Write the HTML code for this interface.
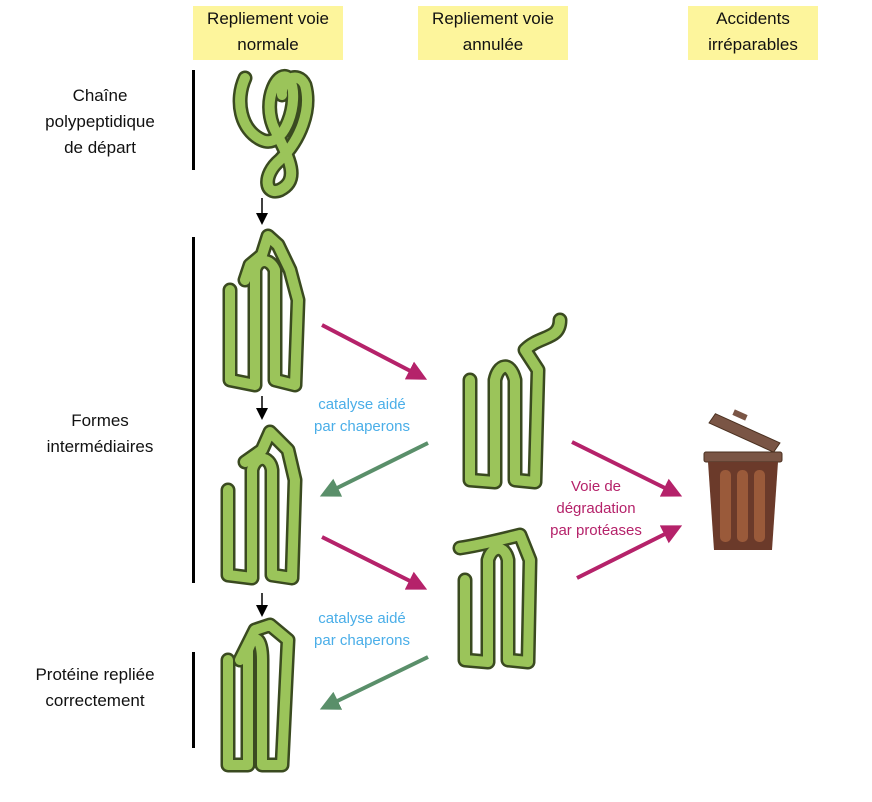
<!DOCTYPE html>
<html><head><meta charset="utf-8"><style>
body{margin:0;background:#fff;width:872px;height:802px;overflow:hidden;font-family:"Liberation Sans",sans-serif}
.t{position:absolute;text-align:center;font-size:17px;line-height:26px;color:#111}
.h{position:absolute;background:#fdf59c;text-align:center;font-size:17px;line-height:26px;color:#111}
</style></head><body>
<div class="h" style="left:193px;top:6px;width:150px;height:54px">Repliement voie<br>normale</div>
<div class="h" style="left:418px;top:6px;width:150px;height:54px">Repliement voie<br>annulée</div>
<div class="h" style="left:688px;top:6px;width:130px;height:54px">Accidents<br>irréparables</div>
<div class="t" style="left:10px;top:83px;width:180px">Chaîne<br>polypeptidique<br>de départ</div>
<div class="t" style="left:10px;top:408px;width:180px">Formes<br>intermédiaires</div>
<div class="t" style="left:5px;top:662px;width:180px">Protéine repliée<br>correctement</div>
<div class="t" style="left:292px;top:394px;width:140px;color:#4aaee8;font-size:15px;line-height:22px">catalyse aidé<br>par chaperons</div>
<div class="t" style="left:292px;top:608px;width:140px;color:#4aaee8;font-size:15px;line-height:22px">catalyse aidé<br>par chaperons</div>
<div class="t" style="left:526px;top:476px;width:140px;color:#b5226a;font-size:15px;line-height:22px">Voie de<br>dégradation<br>par protéases</div>
<svg width="872" height="802" style="position:absolute;left:0;top:0">
<defs>
<marker id="k" markerWidth="8" markerHeight="8" refX="6" refY="4" orient="auto"><path d="M0,0L8,4L0,8z" fill="#000"/></marker>
<marker id="m" markerWidth="5" markerHeight="5" refX="3" refY="2.5" orient="auto"><path d="M0,0L5,2.5L0,5z" fill="#b5226a"/></marker>
<marker id="g" markerWidth="5" markerHeight="5" refX="3" refY="2.5" orient="auto"><path d="M0,0L5,2.5L0,5z" fill="#5a8f6a"/></marker>
</defs>
<g fill="#000"><rect x="192" y="70" width="3" height="100"/><rect x="192" y="237" width="3" height="346"/><rect x="192" y="652" width="3" height="96"/></g>
<g stroke="#000" stroke-width="1.5" marker-end="url(#k)"><line x1="262" y1="198" x2="262" y2="222"/><line x1="262" y1="396" x2="262" y2="417"/><line x1="262" y1="593" x2="262" y2="614"/></g>
<g stroke-width="4" fill="none">
<line x1="322" y1="325" x2="420" y2="376" stroke="#b5226a" marker-end="url(#m)"/>
<line x1="322" y1="537" x2="420" y2="586" stroke="#b5226a" marker-end="url(#m)"/>
<line x1="572" y1="442" x2="675" y2="493" stroke="#b5226a" marker-end="url(#m)"/>
<line x1="577" y1="578" x2="675" y2="529" stroke="#b5226a" marker-end="url(#m)"/>
<line x1="428" y1="443" x2="327" y2="493" stroke="#5a8f6a" marker-end="url(#g)"/>
<line x1="428" y1="657" x2="327" y2="706" stroke="#5a8f6a" marker-end="url(#g)"/>
</g>
<g fill="none" stroke-linecap="round" stroke-linejoin="round">
<g stroke="#3a4a20" stroke-width="15">
<path d="M245,78C235,100 240,130 262,140C285,150 300,100 290,80C280,65 260,100 275,130C290,160 300,180 280,190C265,196 262,175 280,160C300,140 312,110 305,85C298,70 280,80 282,95"/>
<path d="M230,290L230,380L255,385L255,270C258,258 270,258 275,270L275,380L295,385L298,300L290,270L278,245L268,236L262,255L250,265L245,280"/>
<path d="M228,490L228,575L252,578L252,470C255,455 270,455 272,470L272,575L292,578L295,480L288,450L270,432L262,450L245,462"/>
<path d="M228,660L228,765L248,765L248,650C255,630 262,640 262,660L262,765L282,765L288,640L270,625L255,630L240,660"/>
<path d="M470,380L470,480L495,482L495,380C498,365 510,360 515,380L515,480L535,482L538,370L525,350C540,335 560,340 560,320"/>
<path d="M465,580L465,660L488,662L488,560C492,545 505,545 508,560L508,660L528,662L530,560L520,535C500,540 480,545 460,548"/>
</g>
<g stroke="#9bc45a" stroke-width="10">
<path d="M245,78C235,100 240,130 262,140C285,150 300,100 290,80C280,65 260,100 275,130C290,160 300,180 280,190C265,196 262,175 280,160C300,140 312,110 305,85C298,70 280,80 282,95"/>
<path d="M230,290L230,380L255,385L255,270C258,258 270,258 275,270L275,380L295,385L298,300L290,270L278,245L268,236L262,255L250,265L245,280"/>
<path d="M228,490L228,575L252,578L252,470C255,455 270,455 272,470L272,575L292,578L295,480L288,450L270,432L262,450L245,462"/>
<path d="M228,660L228,765L248,765L248,650C255,630 262,640 262,660L262,765L282,765L288,640L270,625L255,630L240,660"/>
<path d="M470,380L470,480L495,482L495,380C498,365 510,360 515,380L515,480L535,482L538,370L525,350C540,335 560,340 560,320"/>
<path d="M465,580L465,660L488,662L488,560C492,545 505,545 508,560L508,660L528,662L530,560L520,535C500,540 480,545 460,548"/>
</g>
</g>
<g>
<path d="M708,428L776,448L781,438L713,418z" fill="#7a5545" stroke="#4a3020" transform="rotate(8 745 433)"/>
<rect x="733" y="412" width="14" height="6" fill="#7a5545" transform="rotate(24 740 415)"/>
<rect x="704" y="452" width="78" height="10" rx="2" fill="#7a5545" stroke="#4a3020"/>
<path d="M708,462L778,462L772,550L714,550z" fill="#6b3a2a"/>
<rect x="720" y="470" width="11" height="72" rx="5" fill="#9a5a3a"/>
<rect x="737" y="470" width="11" height="72" rx="5" fill="#9a5a3a"/>
<rect x="754" y="470" width="11" height="72" rx="5" fill="#9a5a3a"/>
</g>
</svg>
</body></html>
